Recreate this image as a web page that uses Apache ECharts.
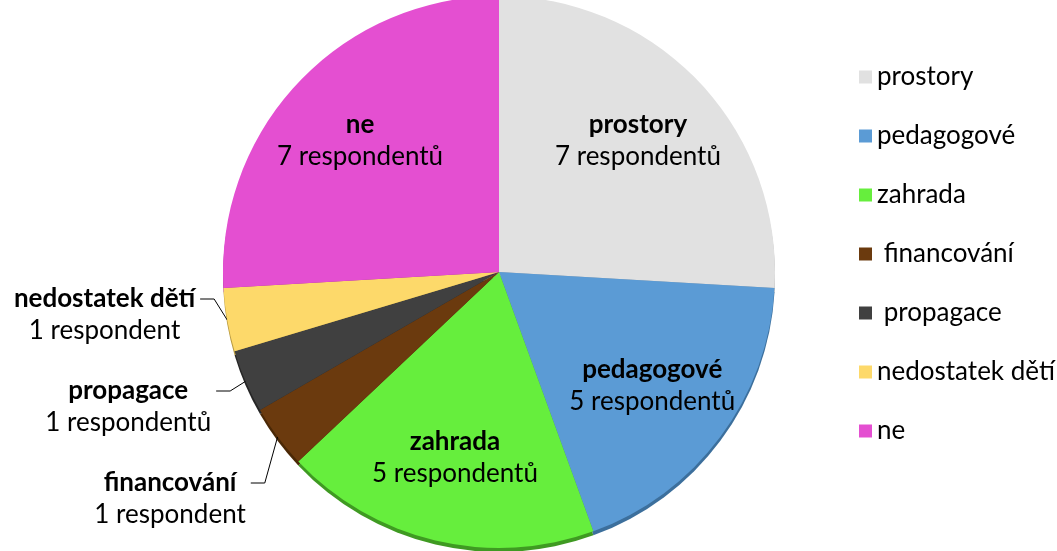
<!DOCTYPE html>
<html>
<head>
<meta charset="utf-8">
<script src="https://cdn.jsdelivr.net/npm/echarts@6/dist/echarts.min.js"></script>
<style>
  html, body { margin: 0; padding: 0; background: #fff; }
  #chart { width: 1057px; height: 551px; }
</style>
</head>
<body>
<div id="chart"></div>
<script>
// data
const categories = ['prostory', 'pedagogové', 'zahrada', 'financování', 'propagace', 'nedostatek dětí', 'ne'];
const legendNames = ['prostory', 'pedagogové', 'zahrada', ' financování', ' propagace', 'nedostatek dětí', 'ne'];
const counts = [7, 5, 5, 1, 1, 1, 7];
const units = ['respondentů', 'respondentů', 'respondentů', 'respondent', 'respondentů', 'respondent', 'respondentů'];
const colors = ['#e1e1e1', '#5b9bd5', '#66ee3d', '#6b3a0e', '#404040', '#fdd96a', '#e44fd1'];
const rims = ['#a8a8a8', '#3c6f9c', '#3f9a22', '#4a2806', '#262626', '#b89a40', '#a0308f'];

const font = 'Lato, "Open Sans", sans-serif';
const center = [499, 272];
const R = 276;

const rich = {
  e: { fontFamily: font, fontSize: 26, lineHeight: 32 },
  b: { fontFamily: font, fontSize: 26, fontWeight: 'bold', color: '#000', lineHeight: 32, align: 'center' },
  n: { fontFamily: font, fontSize: 26, color: '#000', lineHeight: 32, align: 'center' }
};
const inside = p => '{b|' + p.name + '}\n{n|' + counts[p.dataIndex] + ' ' + units[p.dataIndex] + '}';
// spacer line on top so the leader line meets the bold first line
const outside = p => '{e| }\n' + inside(p);

// lift the outside labels a little, keeping the leader line shape
function liftLabels(p) {
  const pts = p.labelLinePoints;
  if (!pts) return {};
  const dy = -22;
  return {
    dy: dy,
    labelLinePoints: [pts[0], [pts[1][0], pts[1][1] + dy], [pts[2][0], pts[2][1] + dy]]
  };
}

const chart = echarts.init(document.getElementById('chart'));

chart.setOption({
  animation: false,
  legend: {
    orient: 'vertical',
    left: 854,
    top: 59,
    icon: 'rect',
    itemWidth: 13,
    itemHeight: 13,
    itemGap: 33,
    selectedMode: false,
    textStyle: { fontFamily: font, fontSize: 26, color: '#000' },
    formatter: name => legendNames[categories.indexOf(name)],
    data: categories.map((n, i) => ({ name: n, itemStyle: { color: colors[i] } }))
  },
  series: [
    {
      // darker rim underneath for the 3D edge
      type: 'pie',
      silent: true,
      z: 1,
      center: [center[0], center[1] + 4],
      radius: [0, R],
      startAngle: 90,
      clockwise: true,
      label: { show: false },
      labelLine: { show: false },
      data: counts.map((v, i) => ({ value: v, name: 'rim' + i, itemStyle: { color: rims[i] } }))
    },
    {
      type: 'pie',
      z: 2,
      center: center,
      radius: [0, R],
      startAngle: 90,
      clockwise: true,
      avoidLabelOverlap: true,
      label: {
        position: 'outside',
        formatter: outside,
        rich: rich
      },
      labelLine: {
        show: true,
        length: 16,
        length2: 14,
        lineStyle: { color: '#000', width: 1 }
      },
      labelLayout: liftLabels,
      data: categories.map((c, i) => ({
        value: counts[i],
        name: c,
        itemStyle: { color: colors[i] },
        label: { show: counts[i] === 1 },
        labelLine: { show: counts[i] === 1 }
      }))
    },
    {
      // inside labels of the large slices
      type: 'pie',
      silent: true,
      z: 3,
      center: center,
      radius: [0, 376],
      startAngle: 90,
      clockwise: true,
      itemStyle: { color: 'rgba(0,0,0,0)' },
      label: {
        position: 'inside',
        formatter: inside,
        rich: rich
      },
      labelLine: { show: false },
      data: categories.map((c, i) => ({
        value: counts[i],
        name: c,
        label: { show: counts[i] > 1 }
      }))
    }
  ]
});
</script>
</body>
</html>
